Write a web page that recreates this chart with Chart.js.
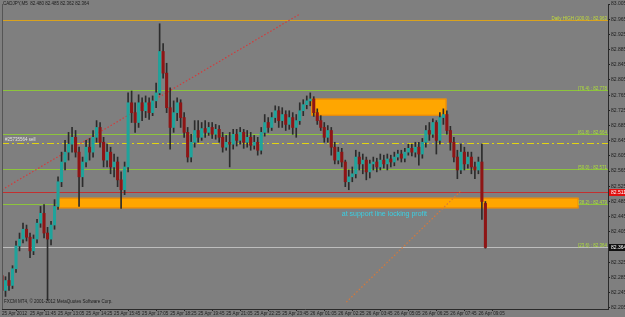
<!DOCTYPE html>
<html>
<head>
<meta charset="utf-8">
<script src="https://cdn.jsdelivr.net/npm/chart.js@4.4.0/dist/chart.umd.min.js"></script>
<style>
  html, body { margin: 0; padding: 0; background: #7f7f7f; }
  #wrap { width: 625px; height: 317px; }
</style>
</head>
<body>
<div id="wrap"><canvas id="c" width="625" height="317"></canvas></div>
<script>
'use strict';

// ── Candles (CADJPY, one candle per 10 min) ─────────────────
const opens = [
  82.290, 82.251, 82.277, 82.264, 82.308, 82.368, 82.386, 82.412, 82.391, 82.355,
  82.386, 82.428, 82.454, 82.402, 82.386, 82.423, 82.472, 82.537, 82.589, 82.615,
  82.636, 82.654, 82.615, 82.550, 82.589, 82.628, 82.615, 82.654, 82.680, 82.641,
  82.594, 82.615, 82.576, 82.589, 82.542, 82.516, 82.576, 82.745, 82.719, 82.693,
  82.745, 82.724, 82.745, 82.719, 82.750, 82.771, 82.880, 82.823, 82.732, 82.680,
  82.719, 82.745, 82.706, 82.667, 82.602, 82.641, 82.672, 82.654, 82.677, 82.667,
  82.680, 82.662, 82.675, 82.654, 82.628, 82.641, 82.636, 82.662, 82.646, 82.667,
  82.641, 82.654, 82.633, 82.641, 82.620, 82.667, 82.693, 82.680, 82.706, 82.724,
  82.698, 82.714, 82.688, 82.706, 82.680, 82.698, 82.724, 82.740, 82.750, 82.755,
  82.719, 82.698, 82.680, 82.654, 82.672, 82.628, 82.594, 82.615, 82.589, 82.537,
  82.550, 82.558, 82.602, 82.584, 82.594, 82.563, 82.584, 82.589, 82.576, 82.594,
  82.584, 82.597, 82.589, 82.602, 82.610, 82.599, 82.615, 82.625, 82.615, 82.628,
  82.610, 82.641, 82.672, 82.662, 82.693, 82.646, 82.706, 82.714, 82.672, 82.641,
  82.602, 82.568, 82.615, 82.584, 82.602, 82.576, 82.568, 82.589, 82.480
];
const highs = [
  82.308, 82.287, 82.298, 82.316, 82.381, 82.402, 82.428, 82.423, 82.402, 82.397,
  82.438, 82.472, 82.477, 82.417, 82.433, 82.490, 82.550, 82.615, 82.646, 82.667,
  82.680, 82.672, 82.628, 82.602, 82.646, 82.651, 82.672, 82.698, 82.693, 82.654,
  82.636, 82.628, 82.610, 82.602, 82.563, 82.589, 82.771, 82.776, 82.745, 82.766,
  82.758, 82.763, 82.758, 82.763, 82.797, 82.953, 82.901, 82.849, 82.784, 82.750,
  82.758, 82.753, 82.719, 82.680, 82.662, 82.698, 82.698, 82.693, 82.698, 82.693,
  82.693, 82.688, 82.685, 82.667, 82.659, 82.667, 82.675, 82.675, 82.680, 82.675,
  82.672, 82.667, 82.659, 82.654, 82.680, 82.714, 82.706, 82.719, 82.737, 82.735,
  82.732, 82.724, 82.724, 82.719, 82.714, 82.745, 82.753, 82.763, 82.771, 82.761,
  82.729, 82.711, 82.693, 82.685, 82.680, 82.641, 82.628, 82.625, 82.594, 82.568,
  82.576, 82.620, 82.615, 82.610, 82.602, 82.594, 82.602, 82.599, 82.610, 82.607,
  82.610, 82.607, 82.615, 82.620, 82.620, 82.625, 82.636, 82.636, 82.641, 82.641,
  82.651, 82.685, 82.693, 82.703, 82.698, 82.719, 82.729, 82.724, 82.683, 82.654,
  82.620, 82.636, 82.628, 82.615, 82.615, 82.589, 82.602, 82.636, 82.485
];
const lows = [
  82.233, 82.235, 82.251, 82.256, 82.298, 82.355, 82.376, 82.381, 82.337, 82.345,
  82.376, 82.417, 82.389, 82.225, 82.371, 82.412, 82.464, 82.524, 82.568, 82.594,
  82.615, 82.602, 82.472, 82.524, 82.576, 82.594, 82.602, 82.641, 82.628, 82.576,
  82.576, 82.558, 82.550, 82.524, 82.467, 82.503, 82.563, 82.693, 82.667, 82.680,
  82.698, 82.706, 82.701, 82.711, 82.732, 82.766, 82.810, 82.719, 82.623, 82.667,
  82.698, 82.680, 82.654, 82.589, 82.589, 82.628, 82.641, 82.646, 82.654, 82.659,
  82.651, 82.649, 82.641, 82.615, 82.620, 82.576, 82.623, 82.631, 82.636, 82.625,
  82.628, 82.620, 82.623, 82.607, 82.610, 82.657, 82.667, 82.672, 82.693, 82.680,
  82.680, 82.672, 82.675, 82.662, 82.654, 82.688, 82.711, 82.729, 82.737, 82.709,
  82.688, 82.672, 82.641, 82.641, 82.607, 82.584, 82.584, 82.576, 82.524, 82.516,
  82.537, 82.547, 82.568, 82.558, 82.542, 82.547, 82.568, 82.563, 82.568, 82.573,
  82.568, 82.576, 82.579, 82.594, 82.589, 82.589, 82.607, 82.605, 82.602, 82.581,
  82.599, 82.628, 82.646, 82.654, 82.610, 82.636, 82.688, 82.662, 82.620, 82.589,
  82.545, 82.558, 82.568, 82.573, 82.558, 82.545, 82.558, 82.438, 82.362
];
const closes = [
  82.251, 82.277, 82.264, 82.308, 82.368, 82.386, 82.412, 82.391, 82.355, 82.386,
  82.428, 82.454, 82.402, 82.386, 82.423, 82.472, 82.537, 82.589, 82.615, 82.636,
  82.654, 82.615, 82.550, 82.589, 82.628, 82.615, 82.654, 82.680, 82.641, 82.594,
  82.615, 82.576, 82.589, 82.542, 82.516, 82.576, 82.745, 82.719, 82.693, 82.745,
  82.724, 82.745, 82.719, 82.750, 82.771, 82.880, 82.823, 82.732, 82.680, 82.719,
  82.745, 82.706, 82.667, 82.602, 82.641, 82.672, 82.654, 82.677, 82.667, 82.680,
  82.662, 82.675, 82.654, 82.628, 82.641, 82.636, 82.662, 82.646, 82.667, 82.641,
  82.654, 82.633, 82.641, 82.620, 82.667, 82.693, 82.680, 82.706, 82.724, 82.698,
  82.714, 82.688, 82.706, 82.680, 82.698, 82.724, 82.740, 82.750, 82.755, 82.719,
  82.698, 82.680, 82.654, 82.672, 82.628, 82.594, 82.615, 82.589, 82.537, 82.550,
  82.558, 82.602, 82.584, 82.594, 82.563, 82.584, 82.589, 82.576, 82.594, 82.584,
  82.597, 82.589, 82.602, 82.610, 82.599, 82.615, 82.625, 82.615, 82.628, 82.610,
  82.641, 82.672, 82.662, 82.693, 82.646, 82.706, 82.714, 82.672, 82.641, 82.602,
  82.568, 82.615, 82.584, 82.602, 82.576, 82.568, 82.589, 82.485, 82.364
];

// ── Axis labels ─────────────────────────────────────────────
const timeLabels = [
  '25 Apr 2012', '25 Apr 11:45', '25 Apr 13:05', '25 Apr 14:25', '25 Apr 15:45',
  '25 Apr 17:05', '25 Apr 18:25', '25 Apr 19:45', '25 Apr 21:05', '25 Apr 22:25',
  '25 Apr 23:45', '26 Apr 01:05', '26 Apr 02:25', '26 Apr 03:45', '26 Apr 05:05',
  '26 Apr 06:25', '26 Apr 07:45', '26 Apr 09:05'
];
const timeLabelStep = 8;   // candles between two time labels
const priceTicks = [
  82.205, 82.245, 82.285, 82.325, 82.365, 82.405, 82.445, 82.485, 82.525, 82.565,
  82.605, 82.645, 82.685, 82.725, 82.765, 82.805, 82.845, 82.885, 82.925, 82.965, 83.005
];

// ── Chart objects ───────────────────────────────────────────
const fibNames  = ['Daily HIGH (100.0)', '(76.4)', '(61.8)', '(50.0)', '(38.2)', '(23.6)'];
const fibPrices = [82.963, 82.778, 82.664, 82.571, 82.479, 82.364];
const redLinePrice = 82.511;
const sellPrice    = 82.638;
const sellLabel    = '#25735564 sell';
const bidPrice     = 82.364;

const boxFrom   = [15.7, 88.3];
const boxTo     = [164.6, 126.9];
const boxTop    = [82.495, 82.756];
const boxBottom = [82.467, 82.711];

const trendFromX = [0, 98.3];
const trendFromP = [82.516, 82.220];
const trendToX   = [85.1, 131.1];
const trendToP   = [82.979, 82.514];

const noteText  = 'at support line locking profit';
const noteX     = 97;
const noteP     = 82.462;

const title     = 'CADJPY,M5  82.480 82.485 82.362 82.364';
const copyright = 'FXCM MT4, \u00a9 2001-2012 MetaQuotes Software Corp.';

// ── Colours ─────────────────────────────────────────────────
const BG       = '#7f7f7f';
const BULL     = '#1fa39b';
const BEAR     = '#8e1515';
const WICK     = '#2c2c2c';
const FIB      = '#8cc43c';
const FIB_TEXT = '#aee03a';
const FONT     = '"Liberation Sans", Arial, sans-serif';

const wicks  = opens.map((_, i) => ({ x: i, y: [lows[i], highs[i]] }));
const bodies = opens.map((o, i) => ({ x: i, y: [o, closes[i]] }));
const bodyColors = opens.map((o, i) => closes[i] >= o ? BULL : BEAR);

// ── Plugins ─────────────────────────────────────────────────
const bgPlugin = {
  id: 'bg',
  beforeDraw(chart) {
    const c = chart.ctx;
    c.save();
    c.fillStyle = BG;
    c.fillRect(0, 0, chart.width, chart.height);
    c.restore();
  }
};

const objectsPlugin = {
  id: 'mtObjects',
  beforeDatasetsDraw(chart) {
    const { ctx, chartArea: a, scales: { x, y } } = chart;
    ctx.save();
    ctx.beginPath();
    ctx.rect(a.left, a.top, a.right - a.left, a.bottom - a.top);
    ctx.clip();

    const hline = (p, color, dash) => {
      const py = Math.round(y.getPixelForValue(p)) + 0.5;
      ctx.strokeStyle = color;
      ctx.lineWidth = 1;
      ctx.setLineDash(dash || []);
      ctx.beginPath();
      ctx.moveTo(a.left, py);
      ctx.lineTo(a.right, py);
      ctx.stroke();
    };

    // fibo levels
    fibPrices.forEach((p, k) => {
      let col = FIB;
      if (k === 0) col = '#d9a21e';
      if (k === fibPrices.length - 1) col = '#bdbdbd';
      hline(p, col);
    });
    hline(redLinePrice, '#c23030');
    hline(sellPrice, '#e2d410', [7, 3, 2, 3]);
    ctx.setLineDash([]);

    // rectangles
    for (let k = 0; k < boxFrom.length; k++) {
      const x0 = x.getPixelForValue(boxFrom[k]);
      const x1 = x.getPixelForValue(boxTo[k]);
      const y0 = y.getPixelForValue(boxTop[k]);
      const y1 = y.getPixelForValue(boxBottom[k]);
      ctx.fillStyle = '#ffa600';
      ctx.fillRect(x0, y0, x1 - x0, y1 - y0);
      ctx.strokeStyle = '#e8860a';
      ctx.strokeRect(x0 + 0.5, y0 + 0.5, x1 - x0 - 1, y1 - y0 - 1);
    }

    // trend lines (dotted)
    const trendCols = ['#d23c3c', '#d6783a'];
    for (let k = 0; k < trendFromX.length; k++) {
      ctx.strokeStyle = trendCols[k];
      ctx.lineWidth = 1.2;
      ctx.setLineDash([1.5, 2]);
      ctx.beginPath();
      ctx.moveTo(x.getPixelForValue(trendFromX[k]), y.getPixelForValue(trendFromP[k]));
      ctx.lineTo(x.getPixelForValue(trendToX[k]), y.getPixelForValue(trendToP[k]));
      ctx.stroke();
    }
    ctx.restore();
  },
  afterDatasetsDraw(chart) {
    const { ctx, chartArea: a, scales: { x, y } } = chart;
    ctx.save();

    // fibo labels
    ctx.font = '4.5px ' + FONT;
    ctx.textAlign = 'right';
    ctx.textBaseline = 'bottom';
    fibPrices.forEach((p, k) => {
      ctx.fillStyle = k === 0 ? '#c2dc3a' : FIB_TEXT;
      ctx.fillText(fibNames[k] + ' : ' + p.toFixed(3), a.right - 1, y.getPixelForValue(p) + 1);
    });

    // sell order label
    ctx.textAlign = 'left';
    ctx.font = '4.5px ' + FONT;
    ctx.fillStyle = '#e4e4e4';
    ctx.fillText(sellLabel, a.left + 3, y.getPixelForValue(sellPrice) - 1);

    // note text
    ctx.font = '7px ' + FONT;
    ctx.fillStyle = '#3ad0e4';
    ctx.textBaseline = 'top';
    ctx.fillText(noteText, x.getPixelForValue(noteX), y.getPixelForValue(noteP));

    // title + copyright
    ctx.font = '4.5px ' + FONT;
    ctx.fillStyle = '#1c1c1c';
    ctx.textBaseline = 'middle';
    ctx.fillText(title, a.left + 1, 4);
    ctx.fillText(copyright, a.left + 2, 302);

    // price boxes on the axis
    const tag = (p, bg) => {
      const py = Math.round(y.getPixelForValue(p));
      ctx.fillStyle = bg;
      ctx.fillRect(a.right + 1, py - 3, chart.width - a.right - 1, 7);
      ctx.fillStyle = '#ffffff';
      ctx.font = '5px ' + FONT;
      ctx.textAlign = 'left';
      ctx.textBaseline = 'middle';
      ctx.fillText(p.toFixed(3), a.right + 3, py + 0.5);
    };
    tag(redLinePrice, '#e01010');
    tag(bidPrice, '#101010');

    // left frame
    ctx.strokeStyle = '#555555';
    ctx.lineWidth = 1;
    ctx.beginPath();
    ctx.moveTo(a.left + 0.5, a.top);
    ctx.lineTo(a.left + 0.5, a.bottom);
    ctx.stroke();
    ctx.restore();
  }
};

// ── Chart ───────────────────────────────────────────────────
new Chart(document.getElementById('c'), {
  type: 'bar',
  data: {
    datasets: [
      { data: wicks,  backgroundColor: WICK, barThickness: 1, grouped: false, order: 1 },
      { data: bodies, backgroundColor: bodyColors, barThickness: 2.4, minBarLength: 1, grouped: false, order: 0 }
    ]
  },
  options: {
    responsive: false,
    animation: false,
    events: [],
    layout: { padding: { left: 2, top: 0, right: 0, bottom: 0 } },
    plugins: { legend: { display: false }, tooltip: { enabled: false } },
    scales: {
      x: {
        type: 'linear',
        min: 0, max: 173,
        offset: false,
        afterBuildTicks: s => { s.ticks = timeLabels.map((_, k) => ({ value: k * timeLabelStep })); },
        afterFit: s => { s.height = 8; },
        ticks: {
          autoSkip: false, maxRotation: 0, align: 'start', padding: 0,
          color: '#1e1e1e', font: { family: FONT, size: 4.6 },
          callback: (v, i) => timeLabels[i]
        },
        grid: { drawOnChartArea: false, drawTicks: true, tickLength: 2, color: '#222222' },
        border: { display: true, color: '#2a2a2a', width: 1 }
      },
      y: {
        position: 'right',
        min: 82.202, max: 83.005,
        afterBuildTicks: s => { s.ticks = priceTicks.map(v => ({ value: v })); },
        afterFit: s => { s.width = 17; },
        ticks: {
          autoSkip: false, padding: 1,
          color: '#1e1e1e', font: { family: FONT, size: 5 },
          callback: v => v.toFixed(3)
        },
        grid: { drawOnChartArea: false, drawTicks: true, tickLength: 2, color: '#222222' },
        border: { display: true, color: '#2a2a2a', width: 1 }
      }
    }
  },
  plugins: [bgPlugin, objectsPlugin]
});
</script>
</body>
</html>
